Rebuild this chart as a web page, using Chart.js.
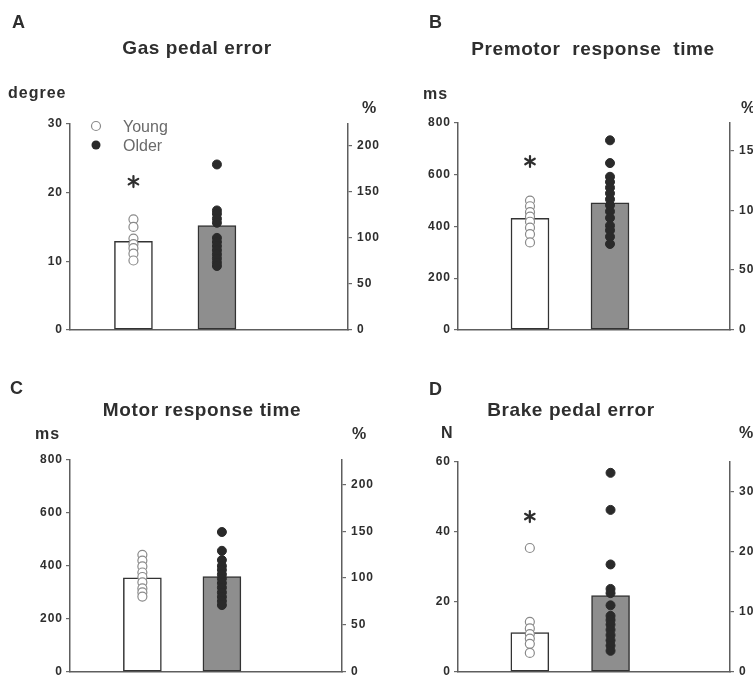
<!DOCTYPE html>
<html>
<head>
<meta charset="utf-8">
<script src="https://cdn.jsdelivr.net/npm/chart.js@4.4.0/dist/chart.umd.min.js"></script>
<style>
  html, body { margin: 0; padding: 0; background: #fff; }
  #page { position: relative; width: 753px; height: 684px; overflow: hidden; }
  #page canvas { position: absolute; }
</style>
</head>
<body>
<div id="page">
  <canvas id="pA" width="390" height="342" style="left:0;top:0"></canvas>
  <canvas id="pB" width="400" height="342" style="left:376px;top:0"></canvas>
  <canvas id="pC" width="390" height="342" style="left:0;top:342px"></canvas>
  <canvas id="pD" width="400" height="342" style="left:376px;top:342px"></canvas>
</div>
<script>
const groups = ['Young', 'Older'];

// A - gas pedal error (degree)
const gasMeans = [12.9, 15.2];
const gasYoung = [16.1, 15.0, 13.3, 12.5, 11.9, 11.1, 10.1];
const gasOlder = [24.1, 17.4, 16.9, 16.2, 15.6, 13.4, 12.8, 12.2, 11.6, 11.0, 10.4, 9.8, 9.3];

// B - premotor response time (ms)
const premMeans = [431, 491];
const premYoung = [500, 478, 455, 438, 418, 395, 370, 338];
const premOlder = [733, 645, 592, 572, 550, 528, 505, 482, 458, 433, 403, 385, 360, 332];

// C - motor response time (ms)
const motorMeans = [355, 360];
const motorYoung = [442, 420, 398, 375, 358, 338, 315, 300, 284];
const motorOlder = [528, 457, 422, 400, 385, 368, 352, 335, 318, 300, 283, 267, 252];

// D - brake pedal error (N)
const brakeMeans = [11.2, 21.8];
const brakeYoung = [35.4, 14.3, 12.4, 10.8, 9.5, 8.0, 5.4];
const brakeOlder = [56.9, 46.3, 30.7, 23.7, 22.5, 19.0, 16.0, 14.8, 13.5, 12.0, 10.5, 9.0, 7.5, 6.0];

// significance stars (value on left axis, over the young group)
const starValues = [21.6, 651, null, 44.4];

// axis ranges
const leftMax = [30, 800, 800, 60];
const leftStep = [10, 200, 200, 20];
const rightMax = [223, 173, 226, 350];
const rightStep = [50, 50, 50, 100];

const FONT = '"Liberation Sans", Arial, sans-serif';
const INK = '#2e2e2e';

const panelText = {
  id: 'panelText',
  beforeDraw(chart) {
    chart.ctx.letterSpacing = '1px';
  },
  afterDraw(chart, args, o) {
    const ctx = chart.ctx;
    ctx.save();
    ctx.fillStyle = INK;
    ctx.textBaseline = 'alphabetic';

    ctx.letterSpacing = '0px';
    ctx.font = 'bold 18px ' + FONT;
    ctx.textAlign = 'left';
    ctx.fillText(o.letter, o.letterAt[0], o.letterAt[1]);

    ctx.letterSpacing = '0.6px';
    ctx.font = 'bold 19px ' + FONT;
    ctx.textAlign = 'center';
    ctx.fillText(o.title, o.titleAt[0], o.titleAt[1]);

    ctx.letterSpacing = '1px';
    ctx.font = 'bold 16px ' + FONT;
    ctx.textAlign = 'left';
    ctx.fillText(o.leftUnit, o.leftUnitAt[0], o.leftUnitAt[1]);
    ctx.fillText('%', o.rightUnitAt[0], o.rightUnitAt[1]);

    // asterisk over the young group
    if (o.star != null) {
      const x = chart.scales.x.getPixelForValue(1);
      const y = chart.scales.y.getPixelForValue(o.star);
      ctx.strokeStyle = INK;
      ctx.lineWidth = 2.2;
      ctx.lineCap = 'round';
      for (const a of [90, 30, 150]) {
        const r = a * Math.PI / 180;
        ctx.beginPath();
        ctx.moveTo(x - 5.5 * Math.cos(r), y - 5.5 * Math.sin(r));
        ctx.lineTo(x + 5.5 * Math.cos(r), y + 5.5 * Math.sin(r));
        ctx.stroke();
      }
    }

    // legend
    if (o.legend) {
      ctx.letterSpacing = '0px';
      ctx.font = '16px ' + FONT;
      const lx = o.legend[0], ly = o.legend[1];
      groups.forEach((g, i) => {
        const cy = ly + i * 19;
        ctx.beginPath();
        ctx.arc(lx, cy, 4.5, 0, Math.PI * 2);
        if (i === 0) {
          ctx.fillStyle = '#fff'; ctx.fill();
          ctx.strokeStyle = '#8a8a8a'; ctx.lineWidth = 1.2; ctx.stroke();
        } else {
          ctx.fillStyle = '#2a2a2a'; ctx.fill();
        }
        ctx.fillStyle = '#6a6a6a';
        ctx.fillText(g, lx + 27, cy + 5.5);
      });
    }
    ctx.restore();
  }
};

function pts(x, vals) { return vals.map(v => ({ x: x, y: v })); }

function makePanel(id, p) {
  const canvas = document.getElementById(id);
  const W = canvas.width, H = canvas.height;
  const axisLine = { color: '#5e5e5e', width: 1.5 };
  const tickFont = { family: FONT, size: 12, weight: 'bold' };
  new Chart(canvas, {
    type: 'bar',
    data: {
      datasets: [
        {
          type: 'scatter', label: groups[0], data: pts(1, p.young), order: 1,
          pointRadius: 4.5, pointBackgroundColor: '#ffffff', pointBorderColor: '#8a8a8a', pointBorderWidth: 1.2
        },
        {
          type: 'scatter', label: groups[1], data: pts(2, p.older), order: 1,
          pointRadius: 4.5, pointBackgroundColor: '#2a2a2a', pointBorderColor: '#2a2a2a', pointBorderWidth: 1
        },
        {
          type: 'bar', label: 'mean', order: 2,
          data: p.means.map((v, i) => ({ x: i + 1, y: v })),
          backgroundColor: ['#ffffff', '#8e8e8e'], borderColor: '#333', borderWidth: 1.5,
          barThickness: 38, borderSkipped: false
        }
      ]
    },
    options: {
      responsive: false,
      animation: false,
      events: [],
      layout: { padding: { top: p.area[2], left: 0, right: 0, bottom: 0 } },
      plugins: {
        legend: { display: false },
        tooltip: { enabled: false },
        panelText: p.text
      },
      scales: {
        x: {
          type: 'linear', min: p.xRange[0], max: p.xRange[1], offset: false,
          ticks: { display: false },
          grid: { display: false },
          border: axisLine,
          afterFit(s) { s.height = H - p.area[3]; }
        },
        y: {
          position: 'left', min: 0, max: p.leftMax,
          ticks: { stepSize: p.leftStep, color: INK, font: tickFont, padding: 3 },
          grid: { drawOnChartArea: false, tickLength: 4, color: '#6a6a6a', lineWidth: 1.2 },
          border: axisLine,
          afterFit(s) { s.width = p.area[0]; }
        },
        y2: {
          position: 'right', min: 0, max: p.rightMax,
          ticks: { stepSize: p.rightStep, color: INK, font: tickFont, padding: 5, includeBounds: false },
          grid: { drawOnChartArea: false, tickLength: 4, color: '#6a6a6a', lineWidth: 1.2 },
          border: axisLine,
          afterFit(s) { s.width = W - p.area[1]; }
        }
      }
    },
    plugins: [panelText]
  });
}

makePanel('pA', {
  means: gasMeans, young: gasYoung, older: gasOlder,
  leftMax: leftMax[0], leftStep: leftStep[0], rightMax: rightMax[0], rightStep: rightStep[0],
  area: [70, 348, 124, 337], xRange: [0.24, 3.57],
  text: {
    letter: 'A', letterAt: [12, 28], title: 'Gas pedal error', titleAt: [197, 54],
    leftUnit: 'degree', leftUnitAt: [8, 98], rightUnitAt: [362, 113],
    star: starValues[0], legend: [96, 126]
  }
});

makePanel('pB', {
  means: premMeans, young: premYoung, older: premOlder,
  leftMax: leftMax[1], leftStep: leftStep[1], rightMax: rightMax[1], rightStep: rightStep[1],
  area: [82, 354, 123, 338], xRange: [0.1, 3.5],
  text: {
    letter: 'B', letterAt: [53, 28], title: 'Premotor  response  time', titleAt: [217, 55],
    leftUnit: 'ms', leftUnitAt: [47, 99], rightUnitAt: [365, 113],
    star: starValues[1]
  }
});

makePanel('pC', {
  means: motorMeans, young: motorYoung, older: motorOlder,
  leftMax: leftMax[2], leftStep: leftStep[2], rightMax: rightMax[2], rightStep: rightStep[2],
  area: [70, 342, 118, 335], xRange: [0.09, 3.51],
  text: {
    letter: 'C', letterAt: [10, 52], title: 'Motor response time', titleAt: [202, 74],
    leftUnit: 'ms', leftUnitAt: [35, 97], rightUnitAt: [352, 97],
    star: starValues[2]
  }
});

makePanel('pD', {
  means: brakeMeans, young: brakeYoung, older: brakeOlder,
  leftMax: leftMax[3], leftStep: leftStep[3], rightMax: rightMax[3], rightStep: rightStep[3],
  area: [82, 354, 120, 335], xRange: [0.11, 3.48],
  text: {
    letter: 'D', letterAt: [53, 53], title: 'Brake pedal error', titleAt: [195, 74],
    leftUnit: 'N', leftUnitAt: [65, 96], rightUnitAt: [363, 96],
    star: starValues[3]
  }
});
</script>
</body>
</html>
